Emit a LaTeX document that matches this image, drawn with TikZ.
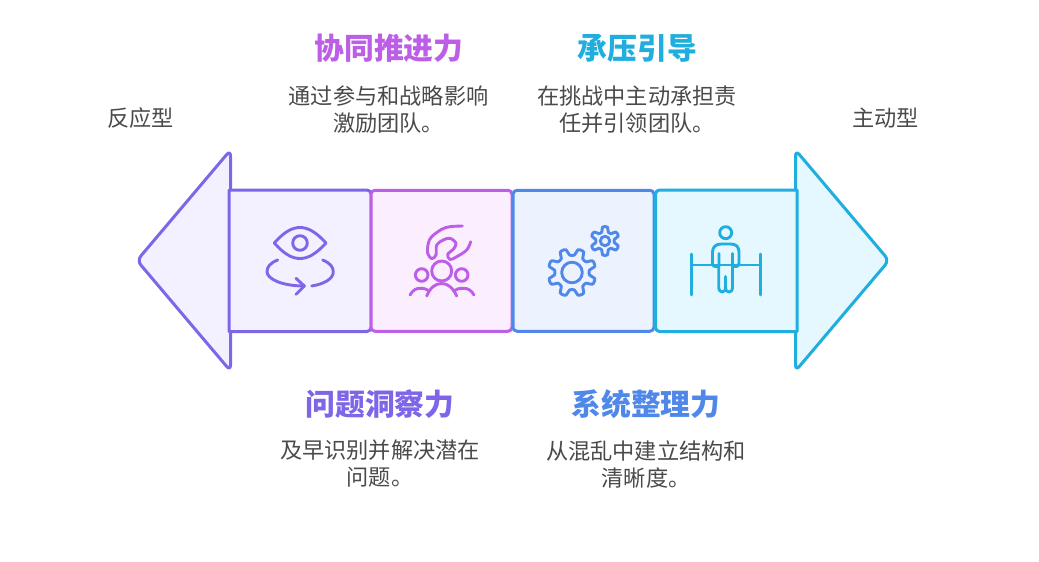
\documentclass[tikz,border=0pt]{standalone}
\usepackage{fontspec}
\setmainfont{Noto Sans CJK SC}
\definecolor{violetline}{HTML}{7F66E8}
\definecolor{violetfill}{HTML}{F3F0FF}
\definecolor{pinkline}{HTML}{BC5FE6}
\definecolor{pinkfill}{HTML}{FBEEFF}
\definecolor{blueline}{HTML}{5088EA}
\definecolor{bluefill}{HTML}{ECF3FF}
\definecolor{cyanline}{HTML}{1FAEDD}
\definecolor{cyanfill}{HTML}{E6F8FF}
\definecolor{bodytext}{HTML}{4A4A4A}
\tikzset{
  stage/.style={draw=#1line,fill=#1fill,line width=3pt,line join=round},
  midbox/.style={stage=#1,rounded corners=4pt,minimum width=141pt,minimum height=141pt,inner sep=0pt},
  icon/.style={draw=#1line,line width=2.9pt,line cap=round,line join=round},
  heading/.style={text=#1line,font=\fontsize{29.8}{34}\selectfont\bfseries,inner sep=0pt},
  note/.style={text=bodytext,font=\fontsize{22.2}{27}\selectfont,align=center,inner sep=0pt}
}
\begin{document}
\begin{tikzpicture}[x=1pt,y=-1pt]
\useasboundingbox (0,0) rectangle (1039,562);
% arrow heads
\draw[stage=violet,rounded corners=6pt] (230.5,150) -- (137,260.5) -- (230.5,371) -- cycle;
\draw[stage=cyan,rounded corners=6pt] (795.5,150) -- (889,260.5) -- (795.5,371) -- cycle;
% boxes
\draw[stage=violet] (229,190) [rounded corners=4pt] -- (371,190) -- (371,331.5) [sharp corners] -- (229,331.5) -- cycle;
\node[midbox=pink] (insightbox) at (441.5,260.75) {};
\node[midbox=blue] (systembox) at (583.5,260.75) {};
\draw[stage=cyan] (797,190) [rounded corners=4pt] -- (655.5,190) -- (655.5,331.5) [sharp corners] -- (797,331.5) -- cycle;
% eye
\draw[icon=violet] (274.3,243) .. controls (284,232) and (292,227.5) .. (300,227.5) .. controls (308,227.5) and (316,232) .. (326,243) .. controls (316,254) and (308,258.5) .. (300,258.5) .. controls (292,258.5) and (284,254) .. (274.3,243) -- cycle;
\draw[icon=violet] (300,243) circle (7.3);
\draw[icon=violet] (277.7,260) .. controls (270,263) and (267,267) .. (267,271.7) .. controls (267,279) and (282,286) .. (304.3,286);
\draw[icon=violet] (296,278.3) -- (304.3,286) -- (296,294.3);
\draw[icon=violet] (322.7,260) .. controls (330,263) and (333.3,267) .. (333.3,271.7) .. controls (333.3,279) and (324,284) .. (311.7,286);
% hand and people
\draw[icon=pink] plot[smooth,tension=0.6] coordinates {(462.3,226) (450,226.7) (441.7,229.3) (431.7,236.7) (428.3,243.3) (427.7,253.3) (431.7,258.6) (436,255) (436.7,245) (443.3,240) (450,238.3) (456,243.3) (453.3,249.3) (447.7,254.3) (450,259.5) (456.7,256.7) (466.7,250) (470.7,241.7)};
\draw[icon=pink] (441.7,271) circle (10);
\draw[icon=pink] (421.7,275) circle (6.3);
\draw[icon=pink] (461.7,275) circle (6.3);
\draw[icon=pink] (426.7,296) .. controls (430,288) and (435,283.5) .. (441.7,283.5) .. controls (448,283.5) and (453,288) .. (456.7,296);
\draw[icon=pink] (410,295) .. controls (413,290) and (416,288.3) .. (420,288.3) .. controls (424,288.3) and (427,289) .. (429.3,291);
\draw[icon=pink] (453.8,291) .. controls (456,289) and (459,288.3) .. (463.3,288.3) .. controls (468,288.3) and (471,290) .. (474,295);
% gears
\draw[icon=blue] plot[smooth cycle,domain=0:352.5,samples=48,variable=\t] ({572+(20.5+3.5*min(1,max(-1,1.7*cos(8*(\t-22.5)))))*cos(\t)},{272.5+(20.5+3.5*min(1,max(-1,1.7*cos(8*(\t-22.5)))))*sin(\t)});
\draw[icon=blue] (572,272.5) circle (10.3);
\draw[icon=blue] plot[smooth cycle,domain=0:350,samples=36,variable=\t] ({605+(11.8+2.7*min(1,max(-1,1.7*cos(6*(\t-30)))))*cos(\t)},{241+(11.8+2.7*min(1,max(-1,1.7*cos(6*(\t-30)))))*sin(\t)});
\draw[icon=blue] (605,241) circle (4.7);
% person at the rail
\draw[icon=cyan] (725.7,232.7) circle (6);
\draw[icon=cyan] (691.5,254) -- (691.5,295);
\draw[icon=cyan] (760.5,254) -- (760.5,295);
\draw[icon=cyan] (691.5,265) -- (760.5,265);
\draw[icon=cyan] (719,253.5) -- (719,266.5) -- (715,266.5) .. controls (713,266.5) and (712.5,265) .. (712.5,263) -- (712.5,252) .. controls (712.5,247) and (716,244) .. (721,244) -- (731,244) .. controls (736,244) and (739,247) .. (739,252) -- (739,263) .. controls (739,265) and (738,266.5) .. (736.5,266.5) -- (732.5,266.5) -- (732.5,253.5);
\draw[icon=cyan] (718.7,267) -- (718.7,287) .. controls (718.7,290.5) and (720.5,292) .. (722,292) .. controls (724,292) and (725.5,290.5) .. (725.5,287) -- (725.5,276.5);
\draw[icon=cyan] (725.5,287) .. controls (725.5,290.5) and (727,292) .. (729,292) .. controls (731,292) and (732.5,290.5) .. (732.5,287) -- (732.5,267);
% texts
\node[heading=pink] (pushtitle) at (389,48) {协同推进力};
\node[note] (pushnote) at (388.5,110) {通过参与和战略影响\\激励团队。};
\node[heading=cyan] (leadtitle) at (637.5,48) {承压引导};
\node[note] (leadnote) at (637,110) {在挑战中主动承担责\\任并引领团队。};
\node[heading=violet] (insighttitle) at (380,404) {问题洞察力};
\node[note] (insightnote) at (380,464) {及早识别并解决潜在\\问题。};
\node[heading=blue] (systemtitle) at (646,404) {系统整理力};
\node[note] (systemnote) at (646,464) {从混乱中建立结构和\\清晰度。};
\node[note] (reactive) at (140.5,118.5) {反应型};
\node[note] (proactive) at (885.5,118.5) {主动型};
\end{tikzpicture}
\end{document}
